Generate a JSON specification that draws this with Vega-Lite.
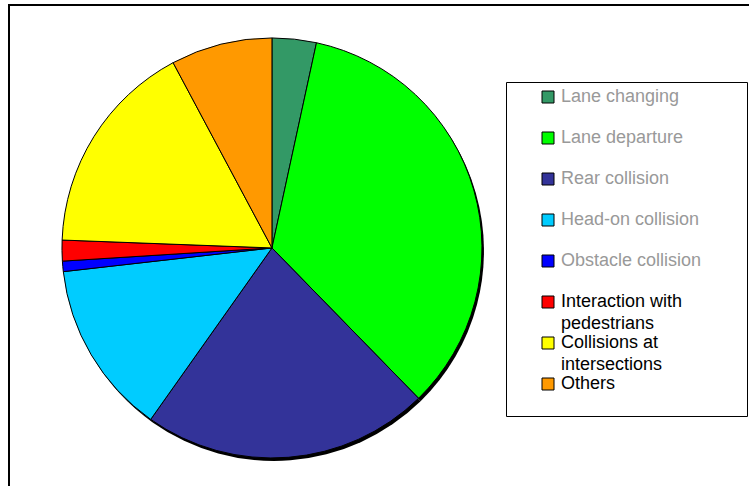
{
  "$schema": "https://vega.github.io/schema/vega-lite/v6.json",
  "width": 742,
  "height": 483,
  "autosize": {"type": "none"},
  "padding": {"left": 9, "top": 5, "right": -2, "bottom": -2},
  "background": "white",
  "config": {
    "view": {"stroke": "#000000", "strokeWidth": 2},
    "font": "Liberation Sans"
  },
  "data": {
    "values": [
      {"category": "Lane changing", "share": 3.4, "order": 1},
      {"category": "Lane departure", "share": 34.3, "order": 2},
      {"category": "Rear collision", "share": 22.1, "order": 3},
      {"category": "Head-on collision", "share": 13.4, "order": 4},
      {"category": "Obstacle collision", "share": 0.8, "order": 5},
      {"category": "Interaction with pedestrians", "share": 1.6, "order": 6},
      {"category": "Collisions at intersections", "share": 16.6, "order": 7},
      {"category": "Others", "share": 7.8, "order": 8}
    ]
  },
  "layer": [
    {
      "mark": {"type": "arc", "radius": 210, "xOffset": 2, "yOffset": 3, "fill": "#000000"},
      "encoding": {
        "theta": {"field": "share", "type": "quantitative", "stack": true},
        "order": {"field": "order", "type": "quantitative"},
        "x": {"datum": 0.3544, "type": "quantitative", "scale": {"domain": [0, 1]}, "axis": null},
        "y": {"datum": 0.497, "type": "quantitative", "scale": {"domain": [0, 1]}, "axis": null}
      }
    },
    {
      "mark": {"type": "arc", "radius": 210, "stroke": "#000000", "strokeWidth": 1},
      "encoding": {
        "theta": {"field": "share", "type": "quantitative", "stack": true},
        "order": {"field": "order", "type": "quantitative"},
        "x": {"datum": 0.3544, "type": "quantitative", "scale": {"domain": [0, 1]}, "axis": null},
        "y": {"datum": 0.497, "type": "quantitative", "scale": {"domain": [0, 1]}, "axis": null},
        "color": {
          "field": "category",
          "type": "nominal",
          "sort": ["Lane changing", "Lane departure", "Rear collision", "Head-on collision", "Obstacle collision", "Interaction with pedestrians", "Collisions at intersections", "Others"],
          "scale": {
            "domain": ["Lane changing", "Lane departure", "Rear collision", "Head-on collision", "Obstacle collision", "Interaction with pedestrians", "Collisions at intersections", "Others"],
            "range": ["#339966", "#00FF00", "#333399", "#00CCFF", "#0000FF", "#FF0000", "#FFFF00", "#FF9900"]
          },
          "legend": {
            "orient": "none",
            "legendX": 497,
            "legendY": 77,
            "title": "_________________________________________",
            "titleOrient": "bottom",
            "titleFont": "Liberation Sans",
            "titleFontSize": 10,
            "titleColor": "#ffffff",
            "titlePadding": 7,
            "titleLimit": 500,
            "strokeColor": "#000000",
            "fillColor": "#ffffff",
            "padding": 6,
            "symbolType": "square",
            "symbolSize": 144,
            "symbolStrokeColor": "#000000",
            "symbolStrokeWidth": 1,
            "symbolOffset": 27,
            "labelOffset": 4,
            "labelFont": "Liberation Sans",
            "labelFontSize": 18,
            "labelLimit": 300,
            "rowPadding": 1,
            "labelExpr": "datum.value == 'Interaction with pedestrians' ? ['Interaction with', 'pedestrians'] : datum.value == 'Collisions at intersections' ? ['Collisions at', 'intersections'] : datum.value == 'Others' ? datum.value : [datum.value, '']",
            "encode": {
              "labels": {
                "update": {
                  "fill": {"signal": "indexof(['Lane changing','Lane departure','Rear collision','Head-on collision','Obstacle collision'], datum.value) >= 0 ? '#999999' : '#000000'"},
                  "baseline": {"value": "top"},
                  "dy": {"value": -9},
                  "lineHeight": {"value": 22}
                }
              }
            }
          }
        }
      }
    }
  ]
}
